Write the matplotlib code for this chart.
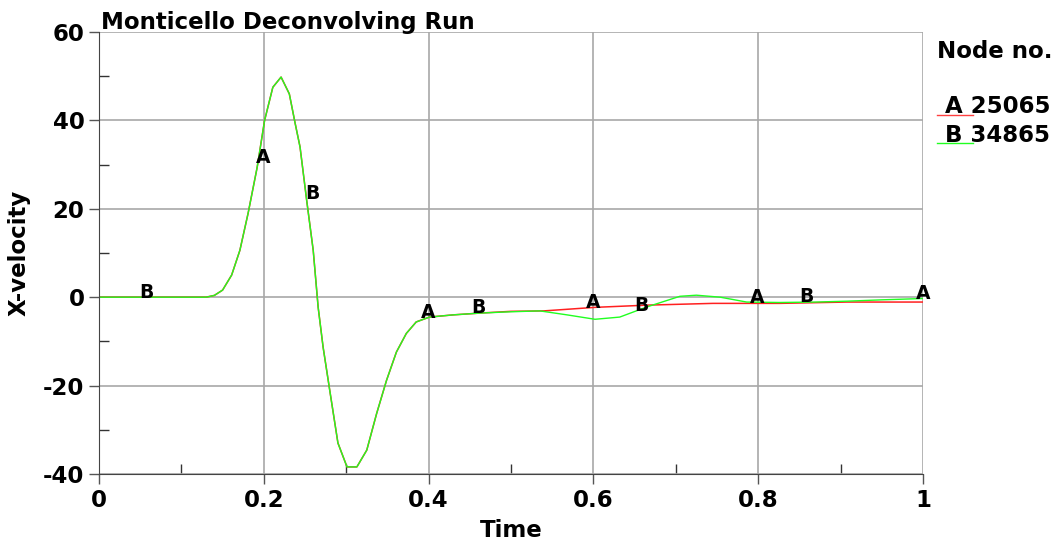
import matplotlib.pyplot as plt
from matplotlib.ticker import MultipleLocator

# node B (34865) - green
time_b = [0.0, 0.13, 0.14, 0.15, 0.161, 0.171, 0.181, 0.192, 0.201, 0.211, 0.221,
          0.231, 0.238, 0.244, 0.252, 0.260, 0.266, 0.272, 0.280, 0.290, 0.301,
          0.313, 0.325, 0.337, 0.349, 0.361, 0.373, 0.385, 0.401, 0.43, 0.462,
          0.5, 0.535, 0.568, 0.602, 0.632, 0.665, 0.705, 0.725, 0.754, 0.786,
          0.826, 0.87, 0.908, 0.95, 1.0]
vel_b = [0.0, 0.0, 0.4, 1.6, 5.0, 10.6, 19.0, 29.4, 40.0, 47.5, 49.8,
         46.0, 39.4, 34.0, 22.0, 10.6, -2.3, -11.3, -21.0, -33.0, -38.4,
         -38.4, -34.6, -26.3, -18.8, -12.4, -8.2, -5.6, -4.5, -4.0, -3.6,
         -3.3, -3.1, -4.0, -5.0, -4.5, -2.2, 0.2, 0.45, 0.0, -1.1,
         -1.2, -1.1, -0.9, -0.6, -0.3]

# node A (25065) - red, follows B until ~0.5
time_a = time_b[:31] + [0.5, 0.54, 0.602, 0.665, 0.745, 0.826, 0.908, 1.0]
vel_a = vel_b[:31] + [-3.2, -3.1, -2.3, -1.8, -1.4, -1.4, -1.1, -1.1]

# curve letter labels
lab_a_t = [0.199, 0.399, 0.600, 0.799, 1.0]
lab_a_v = [31.7, -3.4, -1.1, 0.0, 0.9]
lab_b_t = [0.058, 0.259, 0.460, 0.658, 0.859]
lab_b_v = [1.1, 23.5, -2.3, -1.8, 0.2]

plt.rcParams['font.family'] = 'DejaVu Sans'
plt.rcParams['font.weight'] = 'bold'
plt.rcParams['axes.unicode_minus'] = False

FS = 16.5

fig = plt.figure(figsize=(10.54, 5.46), dpi=100)
ax = fig.add_axes([0.0939, 0.1319, 0.7818, 0.8095])

ax.plot(time_a, vel_a, color='#ff2020', lw=1.1)
ax.plot(time_b, vel_b, color='#20ff20', lw=1.0)

for t, v in zip(lab_a_t, lab_a_v):
    ax.text(t, v, 'A', ha='center', va='center', fontsize=13.5, fontweight='bold')
for t, v in zip(lab_b_t, lab_b_v):
    ax.text(t, v, 'B', ha='center', va='center', fontsize=13.5, fontweight='bold')

ax.set_xlim(0, 1)
ax.set_ylim(-40, 60)
ax.xaxis.set_minor_locator(MultipleLocator(0.1))
ax.yaxis.set_major_locator(MultipleLocator(20))
ax.yaxis.set_minor_locator(MultipleLocator(10))
ax.set_xticks([0, 0.2, 0.4, 0.6, 0.8, 1.0])
ax.set_xticklabels(['0', '0.2', '0.4', '0.6', '0.8', '1'])
ax.tick_params(which='major', direction='out', length=7, labelsize=FS, width=1, color='#555555')
ax.tick_params(which='minor', direction='in', length=7, width=1, color='#333333')
ax.grid(True, which='major', color='#a8a8a8', lw=1.2)
for s in ['top', 'right']:
    ax.spines[s].set_visible(False)
for s in ['left', 'bottom']:
    ax.spines[s].set_color('#444444')

ax.set_xlabel('Time', fontsize=FS, fontweight='bold', labelpad=5)
ax.set_ylabel('X-velocity', fontsize=FS, fontweight='bold', labelpad=9)
fig.text(0.096, 0.947, 'Monticello Deconvolving Run', fontsize=FS, fontweight='bold',
         ha='left', va='baseline')

# legend
fig.text(0.889, 0.894, 'Node no.', fontsize=FS, fontweight='bold', ha='left', va='baseline')
fig.text(0.889, 0.793, ' A 25065', fontsize=FS, fontweight='bold', ha='left', va='baseline')
fig.text(0.889, 0.740, ' B 34865', fontsize=FS, fontweight='bold', ha='left', va='baseline')
fig.lines.append(plt.Line2D([0.889, 0.923], [0.789, 0.789], color='#ff4040',
                            lw=1, transform=fig.transFigure))
fig.lines.append(plt.Line2D([0.889, 0.923], [0.738, 0.738], color='#20ff20',
                            lw=1, transform=fig.transFigure))

fig.savefig('out.png', dpi=100)
